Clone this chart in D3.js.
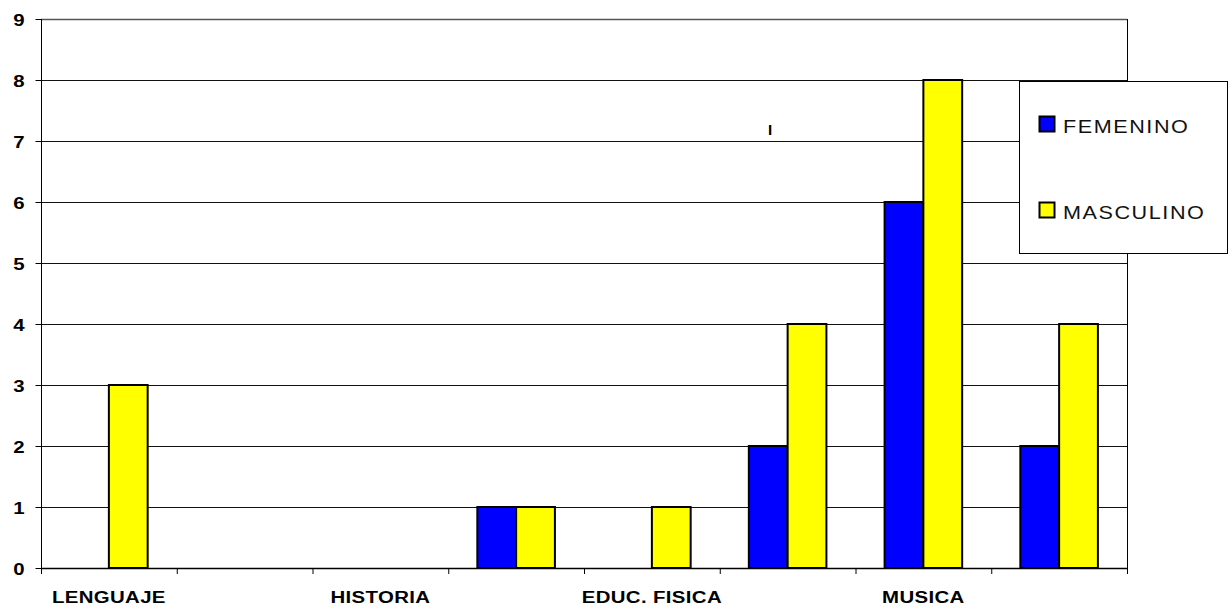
<!DOCTYPE html>
<html>
<head>
<meta charset="utf-8">
<script src="https://cdn.jsdelivr.net/npm/d3@7"></script>
<style>
  html, body { margin: 0; padding: 0; background: #fff; }
  svg { display: block; font-family: Arial, "Liberation Sans", sans-serif; }
</style>
</head>
<body>
<svg id="chart" width="1232" height="609"></svg>
<script>
// Subject categories (only alternate names are printed on the axis)
const categories = ["LENGUAJE", "", "HISTORIA", "", "EDUC. FISICA", "", "MUSICA", ""];
const seriesNames = ["FEMENINO", "MASCULINO"];
const femenino  = [0, 0, 0, 1, 0, 2, 6, 2];
const masculino = [3, 0, 0, 1, 1, 4, 8, 4];
const yTicks = [0, 1, 2, 3, 4, 5, 6, 7, 8, 9];
const colors = ["#0000ff", "#ffff00"];

const svg = d3.select("#chart");
const margin = { left: 41, right: 1127, top: 19, bottom: 568 };
const stretch = 1.2; // horizontal widening of all labels

const x = d3.scaleBand()
  .domain(d3.range(categories.length))
  .range([margin.left, margin.right])
  .paddingInner(0).paddingOuter(0);

// two bars per category with a 150% gap
const inner = d3.scaleBand()
  .domain([0, 1])
  .range([0, x.bandwidth()])
  .paddingInner(0)
  .paddingOuter(0.75);

const y = d3.scaleLinear().domain([0, 9]).range([margin.bottom, margin.top]);

// Horizontal gridlines
svg.append("g")
  .selectAll("line")
  .data(yTicks.filter(d => d > 0))
  .join("line")
  .attr("x1", margin.left).attr("x2", margin.right)
  .attr("y1", d => y(d) + 0.5).attr("y2", d => y(d) + 0.5)
  .attr("stroke", d => d === 9 ? "#555" : "#111")
  .attr("stroke-width", d => d === 9 ? 1.5 : 1);

// Right border of plot area
svg.append("line")
  .attr("x1", margin.right + 0.5).attr("x2", margin.right + 0.5)
  .attr("y1", margin.top).attr("y2", margin.bottom)
  .attr("stroke", "#000");

// Bars
const groups = svg.append("g")
  .selectAll("g")
  .data(categories.map((c, i) => ({ i, vals: [femenino[i], masculino[i]] })))
  .join("g")
  .attr("transform", d => `translate(${x(d.i)},0)`);

groups.selectAll("rect")
  .data(d => d.vals.map((v, s) => ({ v, s })).filter(e => e.v > 0))
  .join("rect")
  .attr("x", d => inner(d.s))
  .attr("width", inner.bandwidth())
  .attr("y", d => y(d.v))
  .attr("height", d => y(0) - y(d.v))
  .attr("fill", d => colors[d.s])
  .attr("stroke", "#000")
  .attr("stroke-width", 2);

// Y axis
const yAxis = d3.axisLeft(y).tickValues(yTicks).tickSize(6).tickPadding(0).tickFormat(d3.format("d"));
const gy = svg.append("g").attr("transform", `translate(${margin.left + 0.5},0)`).call(yAxis);
gy.select(".domain").attr("stroke", "#000").attr("d", `M0,${margin.top}V${margin.bottom + 5}`);
gy.selectAll(".tick line").attr("stroke", "#000");
gy.selectAll(".tick text")
  .attr("x", null).attr("dy", null)
  .attr("transform", `translate(-17,6) scale(${stretch},1)`)
  .attr("text-anchor", "end")
  .attr("font-family", "Arial, 'Liberation Sans', sans-serif")
  .attr("font-size", 17).attr("font-weight", "bold").attr("fill", "#000");

// X axis: ticks at category boundaries
const gx = svg.append("g");
gx.append("line")
  .attr("x1", margin.left).attr("x2", margin.right)
  .attr("y1", margin.bottom + 0.5).attr("y2", margin.bottom + 0.5)
  .attr("stroke", "#000").attr("stroke-width", 1.5);
gx.selectAll("line.tk")
  .data(d3.range(categories.length + 1))
  .join("line")
  .attr("class", "tk")
  .attr("x1", i => (i < categories.length ? x(i) : margin.right) + 0.5)
  .attr("x2", i => (i < categories.length ? x(i) : margin.right) + 0.5)
  .attr("y1", margin.bottom).attr("y2", margin.bottom + 6)
  .attr("stroke", "#000");
gx.selectAll("text")
  .data(categories.map((c, i) => ({ c, i })).filter(d => d.c))
  .join("text")
  .attr("transform", d => `translate(${x(d.i) + x.bandwidth() / 2},603) scale(${stretch},1)`)
  .attr("text-anchor", "middle")
  .attr("font-size", 17).attr("font-weight", "bold")
  .attr("letter-spacing", 0.3)
  .text(d => d.c);

// Stray mark near the top of the plot
svg.append("text")
  .attr("x", 770).attr("y", 135)
  .attr("text-anchor", "middle")
  .attr("font-size", 15).attr("font-weight", "bold")
  .text("I");

// Legend
const lg = svg.append("g");
lg.append("rect")
  .attr("x", 1019.5).attr("y", 81.5).attr("width", 208).attr("height", 172)
  .attr("fill", "#fff").attr("stroke", "#000");
const items = lg.selectAll("g.item")
  .data(seriesNames.map((n, i) => ({ n, i })))
  .join("g").attr("class", "item")
  .attr("transform", d => `translate(1039, ${116 + d.i * 86})`);
items.append("rect")
  .attr("x", 0.5).attr("y", 0.5).attr("width", 15).attr("height", 15)
  .attr("fill", d => colors[d.i]).attr("stroke", "#000").attr("stroke-width", 2);
items.append("text")
  .attr("transform", `translate(24,17) scale(${stretch},1)`)
  .attr("font-size", 18)
  .attr("letter-spacing", 1.3)
  .attr("fill", "#111")
  .text(d => d.n);
</script>
</body>
</html>
